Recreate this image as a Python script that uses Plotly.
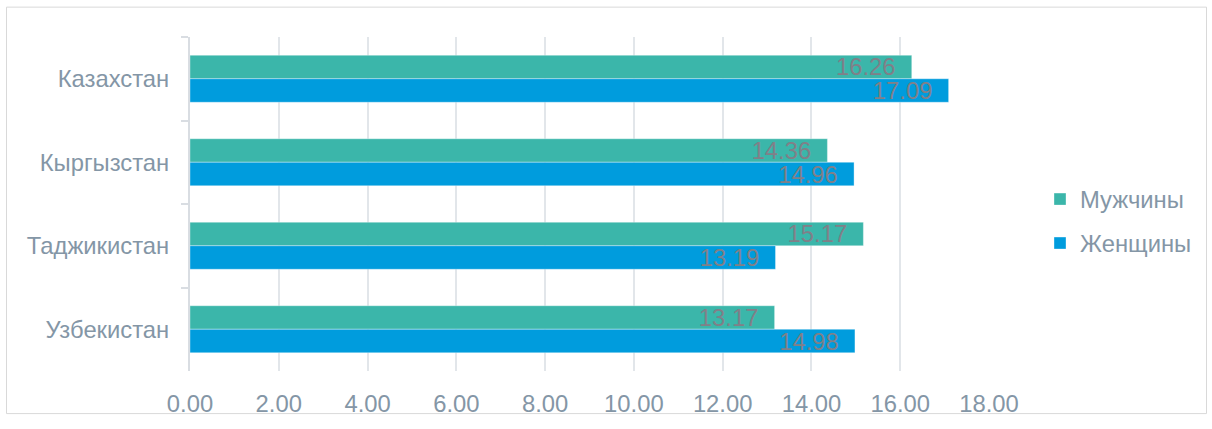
import plotly.graph_objects as go

categories = ["Казахстан", "Кыргызстан", "Таджикистан", "Узбекистан"]
men = [16.26, 14.36, 15.17, 13.17]
women = [17.09, 14.96, 13.19, 14.98]
x_ticks = [0, 2, 4, 6, 8, 10, 12, 14, 16, 18]
x_tick_labels = ["0.00", "2.00", "4.00", "6.00", "8.00", "10.00", "12.00", "14.00", "16.00", "18.00"]

GREEN = "#3bb6aa"
BLUE = "#009cdd"
LABEL_GRAY = "#808088"
AXIS_TEXT = "#8496a6"
FONT = "Liberation Sans, Arial, sans-serif"
FS = 23.8

W, H = 1212, 429
L, R, T, B = 190, 223, 37, 51

fig = go.Figure()
for name, vals, color, grp in [("Мужчины", men, GREEN, "m"), ("Женщины", women, BLUE, "w")]:
    fig.add_trace(go.Bar(
        y=categories, x=vals, orientation="h", name=name, legendgroup=grp,
        marker=dict(color=color, line=dict(color="rgba(255,255,255,0.35)", width=1)),
        text=[f"{v:.2f}\u00a0\u00a0" for v in vals],
        textposition="inside", insidetextanchor="end", constraintext="none",
        textfont=dict(color=LABEL_GRAY, size=FS, family=FONT),
        hoverinfo="skip",
    ))

pw = W - L - R
ph = H - T - B
fig.update_layout(
    width=W, height=H,
    margin=dict(l=L, r=R, t=T, b=B),
    paper_bgcolor="white", plot_bgcolor="white",
    barmode="group", bargap=0.437, bargroupgap=0,
    font=dict(family=FONT, size=FS, color=AXIS_TEXT),
    showlegend=True,
    legend=dict(
        x=(1040 - L) / pw, xanchor="left",
        y=(H - B - 225) / ph, yanchor="middle",
        font=dict(size=FS, color=AXIS_TEXT, family=FONT),
        tracegroupgap=10, traceorder="grouped",
        bgcolor="rgba(0,0,0,0)",
    ),
    xaxis=dict(
        range=[0, 18], tickvals=x_ticks, ticktext=x_tick_labels,
        showgrid=True, gridcolor="#e2e6ea", gridwidth=2,
        zeroline=False, showline=False, ticks="",
        ticklabelstandoff=16,
        tickfont=dict(size=FS, color=AXIS_TEXT, family=FONT),
        fixedrange=True,
    ),
    yaxis=dict(
        categoryorder="array", categoryarray=categories, autorange="reversed",
        showline=True, linecolor="#d9dde2", linewidth=2,
        ticks="outside", tickson="boundaries", ticklen=7, tickcolor="#d9dde2", tickwidth=2,
        ticklabelstandoff=14,
        tickfont=dict(size=FS, color=AXIS_TEXT, family=FONT),
        showgrid=False, zeroline=False,
    ),
    shapes=[dict(
        type="rect", xref="paper", yref="paper",
        x0=(6.5 - L) / pw, x1=(1206.5 - L) / pw,
        y0=(H - B - 421.5) / ph, y1=(H - B - 6.5) / ph,
        line=dict(color="#d9d9d9", width=1), layer="below",
    )],
)

fig.write_html("out.html")
